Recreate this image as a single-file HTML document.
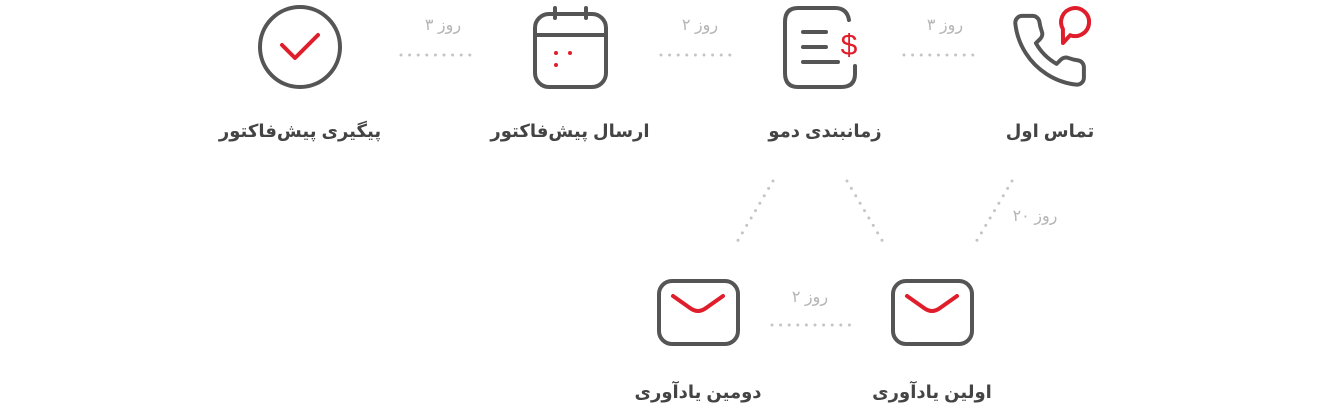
<!DOCTYPE html>
<html><head><meta charset="utf-8"><style>
html,body{margin:0;padding:0;background:#fff;width:1320px;height:410px;overflow:hidden}
svg{display:block}
.lb{font-family:"Liberation Sans","DejaVu Sans",sans-serif;font-size:18px;font-weight:bold;fill:#444;text-anchor:middle}
.dl{font-family:"Liberation Sans","DejaVu Sans",sans-serif;font-size:16px;fill:#b5b5b5;text-anchor:middle}
.g{fill:none;stroke:#555;stroke-width:4;stroke-linecap:round;stroke-linejoin:round}
.r{fill:none;stroke:#e01e2b;stroke-width:4;stroke-linecap:round;stroke-linejoin:round}
.dot{stroke:#c4c4c4;stroke-width:3;stroke-linecap:round;stroke-dasharray:0 8.6;fill:none}
</style></head><body>
<svg width="1320" height="410" viewBox="0 0 1320 410">
<circle cx="300" cy="47" r="40" class="g"/>
<path d="M282,45 L295,58 L318,35" class="r"/>
<rect x="535" y="14" width="71" height="73" rx="14" class="g"/>
<line x1="535" y1="35" x2="606" y2="35" class="g"/>
<line x1="555" y1="8" x2="555" y2="18" class="g"/>
<line x1="586" y1="8" x2="586" y2="18" class="g"/>
<circle cx="556" cy="53" r="2" fill="#e01e2b"/><circle cx="570" cy="53" r="2" fill="#e01e2b"/><circle cx="556" cy="65" r="2" fill="#e01e2b"/>
<path d="M849,20 Q847,8 835,8 L798,8 Q785,8 785,22 L785,73 Q785,87 798,87 L841,87 Q855,87 855,74 L855,66" class="g"/>
<line x1="803" y1="32" x2="826" y2="32" class="g"/>
<line x1="803" y1="47" x2="826" y2="47" class="g"/>
<line x1="803" y1="62" x2="838" y2="62" class="g"/>
<text x="849" y="55" font-family="Liberation Sans,sans-serif" font-size="30" fill="#e01e2b" text-anchor="middle">$</text>
<g transform="translate(1008,9) scale(3.45)">
<path d="M22 16.92v3a2 2 0 0 1-2.18 2 19.79 19.79 0 0 1-8.63-3.07 19.5 19.5 0 0 1-6-6 19.79 19.79 0 0 1-3.07-8.67A2 2 0 0 1 4.11 2h3a2 2 0 0 1 2 1.72 12.84 12.84 0 0 0 .7 2.81 2 2 0 0 1-.45 2.11L8.09 9.91a16 16 0 0 0 6 6l1.27-1.27a2 2 0 0 1 2.11-.45 12.84 12.84 0 0 0 2.81.7A2 2 0 0 1 22 16.92z" fill="none" stroke="#555" stroke-width="1.15" stroke-linejoin="round"/>
</g>
<path d="M1070.2,35.2 A14,14 0 1 0 1062.9,29 L1063,43 Z" class="r" stroke-width="3.5"/>
<rect x="659" y="281" width="79" height="63" rx="13" class="g"/>
<path d="M673,296 L690,308 Q698,314 706,308 L723,296" class="r"/>
<rect x="893" y="281" width="79" height="63" rx="13" class="g"/>
<path d="M907,296 L924,308 Q932,314 940,308 L957,296" class="r"/>
<line x1="401" y1="55" x2="478" y2="55" class="dot"/>
<line x1="661" y1="55" x2="738" y2="55" class="dot"/>
<line x1="904" y1="55" x2="981" y2="55" class="dot"/>
<line x1="772" y1="325" x2="850" y2="325" class="dot"/>
<line x1="773" y1="181" x2="734" y2="247" class="dot"/>
<line x1="847" y1="181" x2="886" y2="247" class="dot"/>
<line x1="1012" y1="181" x2="973" y2="247" class="dot"/>
<text x="443" y="30" class="dl">۳ روز</text>
<text x="700" y="30" class="dl">۲ روز</text>
<text x="945" y="30" class="dl">۳ روز</text>
<text x="1035" y="221" class="dl">۲۰ روز</text>
<text x="810" y="302" class="dl">۲ روز</text>
<text x="300" y="137" class="lb">پیگیری پیش‌فاکتور</text>
<text x="570" y="137" class="lb">ارسال پیش‌فاکتور</text>
<text x="825" y="137" class="lb">زمانبندی دمو</text>
<text x="1050" y="137" class="lb">تماس اول</text>
<text x="698" y="398" class="lb">دومین یادآوری</text>
<text x="932" y="398" class="lb">اولین یادآوری</text>
</svg>
</body></html>
